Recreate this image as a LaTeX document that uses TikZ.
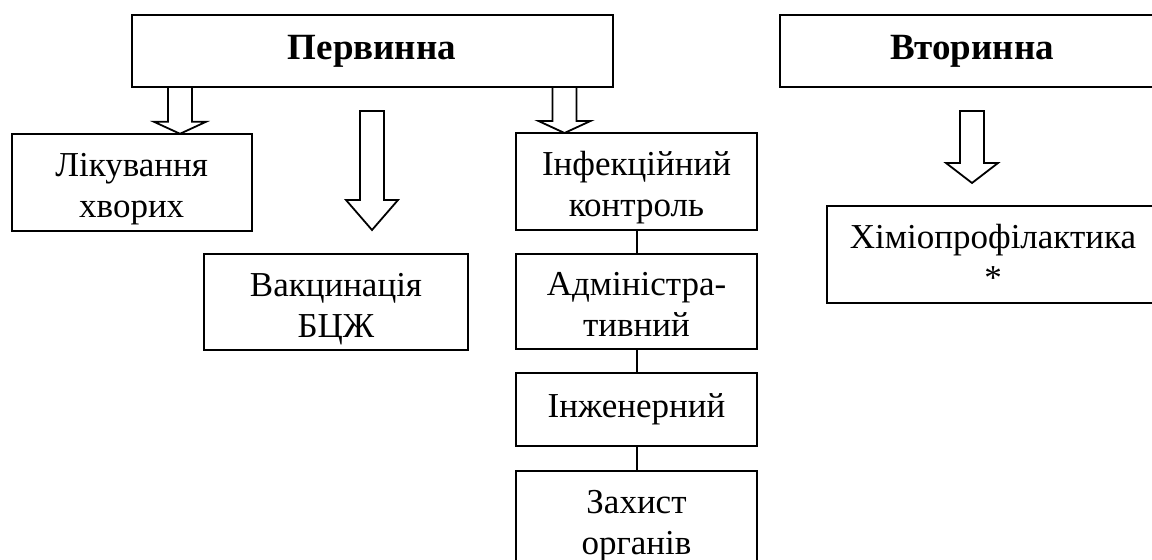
\documentclass[tikz,border=0pt]{standalone}
\usepackage{fontspec}
\setmainfont{Liberation Serif}
\usetikzlibrary{calc,positioning}

% invisible struts that set the first and the last line of a two-line box
\newcommand{\capln}{\rule{0pt}{19pt}}
\newcommand{\footln}{\rule[-4pt]{0pt}{4pt}}

% outlined block arrow: #1 start, #2 tip, #3 head length
\newcommand{\blockarrow}[3]{%
	\draw[fat arrow] let \p1=#1, \p2=#2 in
		(\x1-6pt,\y1) -- (\x1-6pt,\y2+#3) -- (\x1-13pt,\y2+#3) -- (\x1,\y2)
		-- (\x1+13pt,\y2+#3) -- (\x1+6pt,\y2+#3) -- (\x1+6pt,\y1) -- cycle;}

\begin{document}
\begin{tikzpicture}[x=0.5pt,y=-0.5pt,
		box/.style={draw,line width=1pt,inner sep=0pt,outer sep=0pt,align=center,
			minimum width=120pt,minimum height=48.5pt,
			font=\fontsize{17.5pt}{20.5pt}\selectfont},
		head/.style={box,minimum height=36pt,
			font=\bfseries\fontsize{18.5pt}{21pt}\selectfont},
		fat arrow/.style={line width=0.9pt,line join=miter},
		link/.style={draw,line width=1pt}]
	\useasboundingbox (0,0) rectangle (1152,560);
	\clip (0,0) rectangle (1152,560);

	\node[head,minimum width=240.5pt]	(prim)	at (372,51)	{Первинна};
	\node[head,minimum width=192.5pt]	(sec)	at (972,51)	{Вторинна};

	\node[box]			(treat)	at (131.7,182.3)	{\capln Лікування\\хворих\footln};
	\node[box,minimum width=132pt,minimum height=48pt]	(vacc)	at (336,302)	{\capln Вакцинація\\БЦЖ\footln};
	\node[box,minimum width=120.5pt]	(infc)	at (636.5,181.5)	{\capln Інфекційний\\контроль\footln};
	\node[box,minimum width=120.5pt,minimum height=47.5pt]	(admin)	[below=12pt of infc]	{\capln Адміністра-\\тивний\footln};
	\node[box,minimum width=120.5pt,minimum height=36.5pt]	(engin)	[below=12pt of admin]	{Інженерний};
	\node[box,minimum width=120.5pt]	(prot)	[below=12.5pt of engin]	{\capln Захист\\органів\footln};
	\node[box,minimum width=166pt]	(chemo)	at (993,254.5)	{\capln Хіміопрофілактика\\*\footln};

	% arrows out of the two headers
	\coordinate (a1x) at (180,0);
	\coordinate (a3x) at (564.5,0);
	\blockarrow{(prim.south -| a1x)}{(treat.north -| a1x)}{6pt}
	\blockarrow{($(prim.south)+(0,-12pt)$)}{($(vacc.north -| prim.south)+(0,12pt)$)}{15pt}
	\blockarrow{(prim.south -| a3x)}{(infc.north -| a3x)}{6pt}
	\blockarrow{($(sec.south)+(0,-12pt)$)}{($(chemo.north -| sec.south)+(0,11.5pt)$)}{10pt}

	% chain of control levels
	\path[link]	(infc.south) -- (admin.north)
			(admin.south) -- (engin.north)
			(engin.south) -- (prot.north);
\end{tikzpicture}
\end{document}
